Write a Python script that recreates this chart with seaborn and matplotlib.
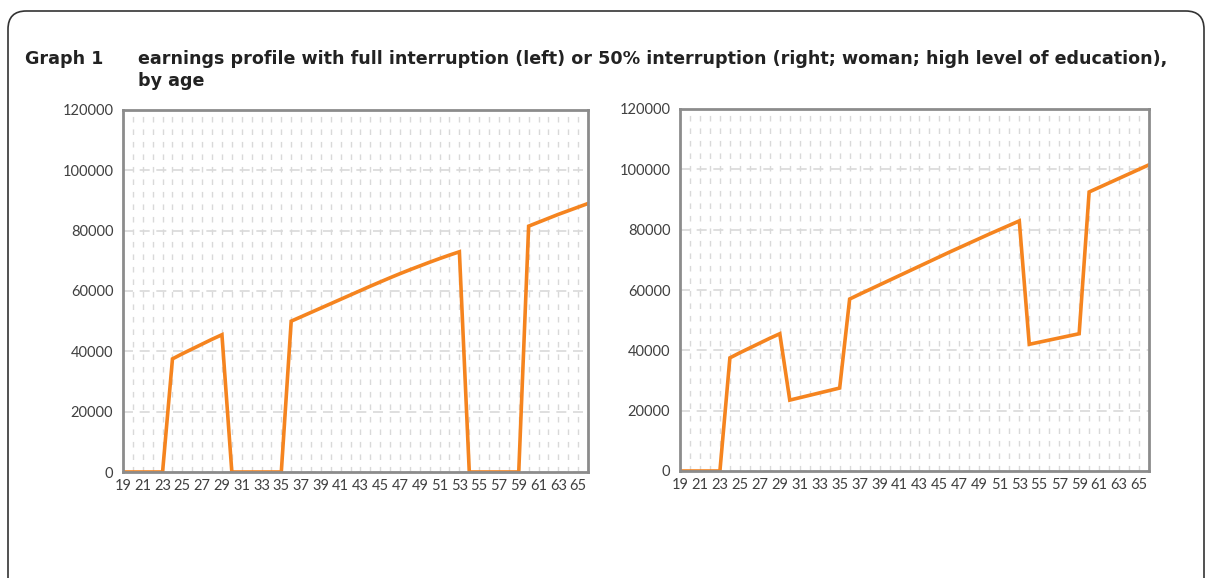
import numpy as np
import pandas as pd
import matplotlib
matplotlib.use("Agg")
import matplotlib.pyplot as plt
import seaborn as sns
from matplotlib.patches import FancyBboxPatch

# ages 19..66
ages = list(range(19, 67))

# full interruption (left)
earn_full = (
    [0, 0, 0, 0, 0]
    + [37500, 39200, 40800, 42400, 44000, 45500]
    + [0, 0, 0, 0, 0, 0]
    + [50000, 51450, 52900, 54350, 55800, 57250, 58700, 60150, 61600,
       63000, 64400, 65750, 67050, 68300, 69550, 70750, 71900, 73000]
    + [0, 0, 0, 0, 0, 0]
    + [81500, 82800, 84100, 85400, 86600, 87800, 89000]
)

# 50% interruption (right)
earn_half = (
    [0, 0, 0, 0, 0]
    + [37500, 39200, 40800, 42400, 44000, 45500]
    + [23500, 24300, 25100, 25900, 26700, 27500]
    + [57000, 58600, 60150, 61700, 63250, 64800, 66350, 67900, 69450,
       71000, 72550, 74050, 75550, 77050, 78550, 80000, 81450, 82900]
    + [42000, 42700, 43400, 44100, 44800, 45500]
    + [92500, 94000, 95500, 97000, 98500, 100000, 101500]
)

title_lab = "Graph 1"
title_txt = ("earnings profile with full interruption (left) or 50% interruption "
             "(right; woman; high level of education),\nby age")

sns.set_style("white")
plt.rcParams["font.family"] = ["Lato", "DejaVu Sans"]

fig = plt.figure(figsize=(12.14, 5.78), dpi=100)

# rounded frame around the whole graph, open at the bottom
frame = FancyBboxPatch((8 / 1214, -0.1), 1204 / 1214 - 8 / 1214, 1.1 - 11 / 578,
                       boxstyle="round,pad=0,rounding_size=0.015",
                       transform=fig.transFigure, facecolor="none",
                       edgecolor="#333333", linewidth=1.2, mutation_aspect=2.1)
fig.patches.append(frame)

fig.text(25 / 1214, 1 - 50 / 578, title_lab, fontsize=12.6, fontweight="bold",
         family="DejaVu Sans", color="#222222", va="top", ha="left")
fig.text(138 / 1214, 1 - 50 / 578, title_txt, fontsize=12.6, fontweight="bold",
         family="DejaVu Sans", color="#222222", va="top", ha="left", linespacing=1.3)

ax_pos = [
    [123 / 1214, 1 - 472 / 578, 465 / 1214, 362 / 578],
    [680 / 1214, 1 - 471 / 578, 469 / 1214, 362 / 578],
]

for pos, vals in zip(ax_pos, [earn_full, earn_half]):
    ax = fig.add_axes(pos)
    df = pd.DataFrame({"age": ages, "earnings": vals})
    sns.lineplot(data=df, x="age", y="earnings", ax=ax, color="#F5841F",
                 linewidth=2.6, solid_joinstyle="miter")
    ax.set_xlim(19, 66)
    ax.set_ylim(0, 120000)
    ax.set_xticks(ages)
    ax.set_xticklabels([str(a) if a % 2 == 1 else "" for a in ages])
    ax.set_yticks(range(0, 120001, 20000))
    ax.set_xlabel("")
    ax.set_ylabel("")
    ax.grid(axis="x", which="major", color="#D9D9D9", linestyle=(0, (4, 5)), linewidth=1)
    ax.grid(axis="y", which="major", color="#D9D9D9", linestyle=(0, (6, 4)), linewidth=1.2)
    ax.set_axisbelow(True)
    for sp in ax.spines.values():
        sp.set_visible(True)
        sp.set_color("#8C8C8C")
        sp.set_linewidth(2)
    ax.tick_params(axis="x", which="major", length=4, width=1, color="#8C8C8C",
                   labelsize=10.5, labelcolor="#404040", pad=1)
    ax.tick_params(axis="y", which="major", length=4, width=1, color="#8C8C8C",
                   labelsize=10.5, labelcolor="#404040", pad=3)

fig.savefig("out.png", dpi=100)
